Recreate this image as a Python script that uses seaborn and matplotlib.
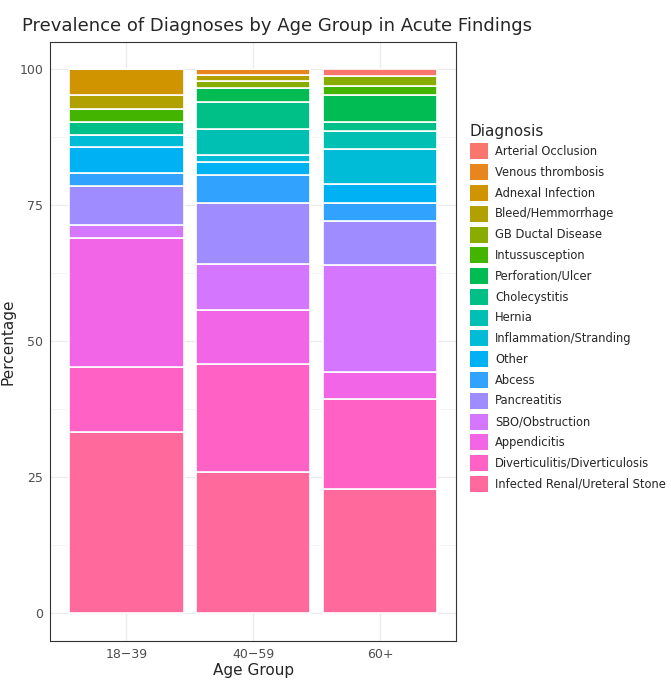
import numpy as np
import matplotlib
matplotlib.use("Agg")
import matplotlib.pyplot as plt
import seaborn as sns
from matplotlib.patches import Patch

age_groups = ["18−39", "40−59", "60+"]
diagnoses = ["Arterial Occlusion", "Venous thrombosis", "Adnexal Infection", "Bleed/Hemmorrhage",
             "GB Ductal Disease", "Intussusception", "Perforation/Ulcer", "Cholecystitis", "Hernia",
             "Inflammation/Stranding", "Other", "Abcess", "Pancreatitis", "SBO/Obstruction",
             "Appendicitis", "Diverticulitis/Diverticulosis", "Infected Renal/Ureteral Stone"]
pct_18_39 = [0, 0, 4.8, 2.4, 0, 2.4, 0, 2.4, 0, 2.2, 4.8, 2.4, 7.2, 2.4, 23.8, 11.9, 33.3]
pct_40_59 = [0, 1.0, 0, 1.2, 1.3, 0, 2.5, 4.9, 4.9, 1.3, 2.4, 5.0, 11.2, 8.6, 9.9, 19.8, 26.0]
pct_60 = [1.3, 0, 0, 0, 1.8, 1.6, 5.0, 1.6, 3.3, 6.5, 3.4, 3.3, 8.2, 19.7, 4.9, 16.5, 22.9]


def hue_pal(n, l=65, c=100):
    # ggplot2-like hcl palette
    hues = np.linspace(15, 355, n)
    cols = []
    for h in hues:
        u = c * np.cos(np.radians(h))
        v = c * np.sin(np.radians(h))
        Y = ((l + 16) / 116) ** 3
        un, vn = 0.19784, 0.46834
        up = u / (13 * l) + un
        vp = v / (13 * l) + vn
        X = Y * 9 * up / (4 * vp)
        Z = Y * (12 - 3 * up - 20 * vp) / (4 * vp)
        m = np.array([[3.2406, -1.5372, -0.4986],
                      [-0.9689, 1.8758, 0.0415],
                      [0.0557, -0.2040, 1.0570]])
        rgb = np.clip(m @ np.array([X, Y, Z]), 0, None)
        rgb = np.where(rgb <= 0.0031308, 12.92 * rgb, 1.055 * rgb ** (1 / 2.4) - 0.055)
        cols.append(tuple(np.clip(rgb, 0, 1)))
    return cols


sns.set_theme(style="whitegrid")
plt.rcParams['font.family'] = ['DejaVu Sans']
colors = hue_pal(len(diagnoses))

fig = plt.figure(figsize=(6.71, 6.8), dpi=100)
ax = fig.add_axes([0.075, 0.058, 0.605, 0.88])

data = np.array([pct_18_39, pct_40_59, pct_60])
x = np.arange(len(age_groups))
bottom = np.zeros(len(age_groups))
for k in range(len(diagnoses) - 1, -1, -1):
    vals = data[:, k]
    ax.bar(x, vals, bottom=bottom, width=0.9, color=colors[k], edgecolor="white", linewidth=1.2)
    bottom += vals

ax.set_xlim(-0.6, 2.6)
ax.set_ylim(-5, 105)
ax.set_xticks(x)
ax.set_xticklabels(age_groups)
ax.set_yticks([0, 25, 50, 75, 100])
ax.set_yticks([12.5, 37.5, 62.5, 87.5], minor=True)
ax.grid(True, which="major", color="#ebebeb", linewidth=1)
ax.grid(True, which="minor", color="#f3f3f3", linewidth=0.6)
ax.set_axisbelow(True)
for s in ax.spines.values():
    s.set_color("#333333")
    s.set_linewidth(0.8)
ax.tick_params(axis="both", which="major", length=3, color="#333333", labelsize=9, labelcolor="#4d4d4d", pad=2)
ax.tick_params(axis="both", which="minor", length=0)
ax.set_xlabel("Age Group", fontsize=11, labelpad=2)
ax.set_ylabel("Percentage", fontsize=11, labelpad=3)
ax.set_title("Prevalence of Diagnoses by Age Group in Acute Findings", fontsize=13, loc="left", x=-0.07, pad=8)

handles = [Patch(facecolor=colors[i], edgecolor="none", label=d) for i, d in enumerate(diagnoses)]
fig.legend(handles=handles, title="Diagnosis", loc="upper left", bbox_to_anchor=(0.693, 0.825),
           frameon=False, fontsize=8.3, title_fontsize=11, handlelength=1.6, handleheight=1.75,
           labelspacing=0.42, alignment="left", handletextpad=0.6, borderaxespad=0)

fig.savefig("out.png", dpi=100, facecolor="white")
